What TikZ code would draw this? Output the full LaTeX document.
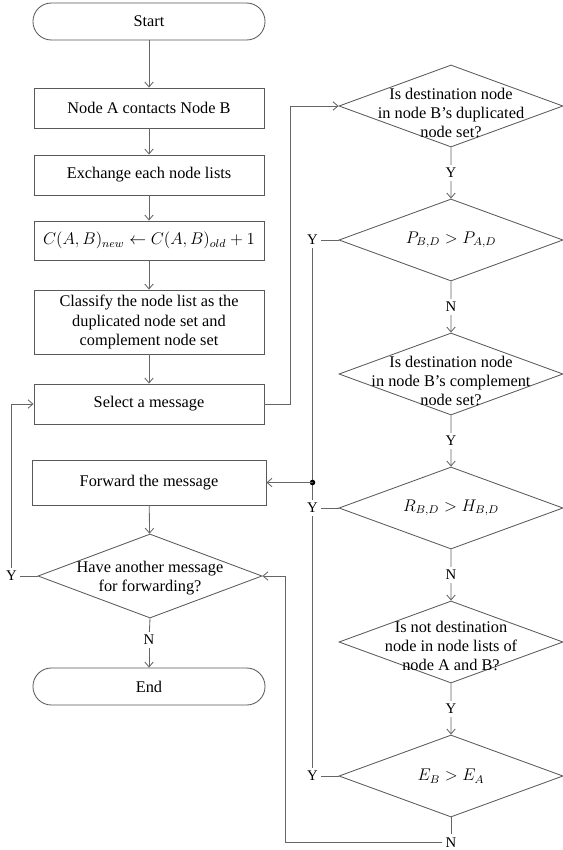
\documentclass[tikz,border=0pt]{standalone}
\usepackage{fontspec}
\setmainfont{Liberation Serif}
\usetikzlibrary{arrows.meta,positioning,calc,shapes.geometric}

\begin{document}
\begin{tikzpicture}[x=0.025cm, y=-0.025cm, line width=0.6pt,
  font=\fontsize{11.6pt}{13.6pt}\selectfont,
  box/.style={draw=black!65, minimum width=5.75cm, minimum height=1cm, align=center, inner sep=2pt},
  term/.style={box, minimum width=5.8cm, minimum height=0.925cm, rounded corners=0.46cm},
  dec/.style={draw=black!65, diamond, minimum width=5.6cm, minimum height=2.05cm, inner sep=0pt},
  lbl/.style={inner sep=2pt, font=\fontsize{10.5pt}{12pt}\selectfont},
  line/.style={draw=black!60},
  arr/.style={line, -{Straight Barb[length=3.5pt,width=6pt]}}]
  \useasboundingbox (0,0) rectangle (562,850);

  \node[term] (start) at (149,21.5) {Start};
  \node[box] (nodeA) at (149,108) {Node A contacts Node B};
  \node[box] (exch) at (149,175) {Exchange each node lists};
  \node[box, minimum height=0.975cm] (cnt) at (149,240.5)
    {$C(A,B)_{new} \leftarrow C(A,B)_{old} + 1$};
  \node[box, minimum height=1.6cm] (clsf) at (149,322)
    {Classify the node list as the\\duplicated node set and\\complement node set};
  \node[box] (sel) at (149,404) {Select a message};
  \node[box, minimum width=5.85cm, minimum height=1.125cm] (fwd) at (149,482.5) {Forward the message};
  \node[dec, minimum height=2.1cm] (have) at (150,576) {};
  \node[align=center] (havet) at (150,578) {Have another message\\for forwarding?};
  \node[term] (end) at (149,686.5) {End};

  \foreach \a/\b in {start/nodeA, nodeA/exch, exch/cnt, cnt/clsf, clsf/sel, fwd/have}
    \draw[arr] (\a) -- (\b);
  \node[lbl] (hn) at (149,640) {N};
  \draw[line] (have.south) -- (hn);
  \draw[arr] (hn) -- (end);
  \node[lbl] (hy) at ([xshift=-0.65cm]have.west) {Y};
  \draw[line] (have.west) -- (hy);
  \draw[arr] (hy.north) |- (sel.west);

  \foreach \i/\s/\txt in {1/-0.18/{Is destination node\\in node B’s duplicated\\node set?},
      2/0/{$P_{B,D} > P_{A,D}$},
      3/-0.18/{Is destination node\\in node B’s complement\\node set?},
      4/0/{$R_{B,D} > H_{B,D}$},
      5/-0.1/{Is not destination\\node in node lists of\\node A and B?},
      6/0/{$E_B > E_A$}} {
    \node[dec] (q\i) at (451,{106+134*(\i-1)}) {};
    \node[align=center, yshift=\s cm] (q\i t) at (q\i) {\txt};
  }
  \foreach \i/\j/\l in {1/2/Y, 2/3/N, 3/4/Y, 4/5/N, 5/6/Y} {
    \node[lbl] (m\i) at ($(q\i.south)!0.5!(q\j.north)$) {\l};
    \draw[line] (q\i.south) -- (m\i);
    \draw[arr] (m\i) -- (q\j.north);
  }
  \draw[arr] (sel.east) -- ++(26,0) |- (q1.west);

  \foreach \i in {2,4,6} {
    \node[lbl] (y\i) at ([xshift=-0.65cm]q\i.west) {Y};
    \draw[line] (y\i) -- (q\i.west);
  }
  \coordinate (jn) at (y2 |- fwd.east);
  \draw[line] (y2) -- (y4);
  \draw[line] (y4) -- (y6);
  \fill[black] (jn) circle (0.07cm);
  \draw[arr] (jn) -- (fwd.east);

  \node[lbl] (m6) at ([yshift=-0.62cm]q6.south) {N};
  \draw[line] (q6.south) -- (m6);
  \coordinate (bk) at (285,0);
  \draw[arr] (m6.west) -| (bk |- have.east) -- (have.east);
\end{tikzpicture}
\end{document}
